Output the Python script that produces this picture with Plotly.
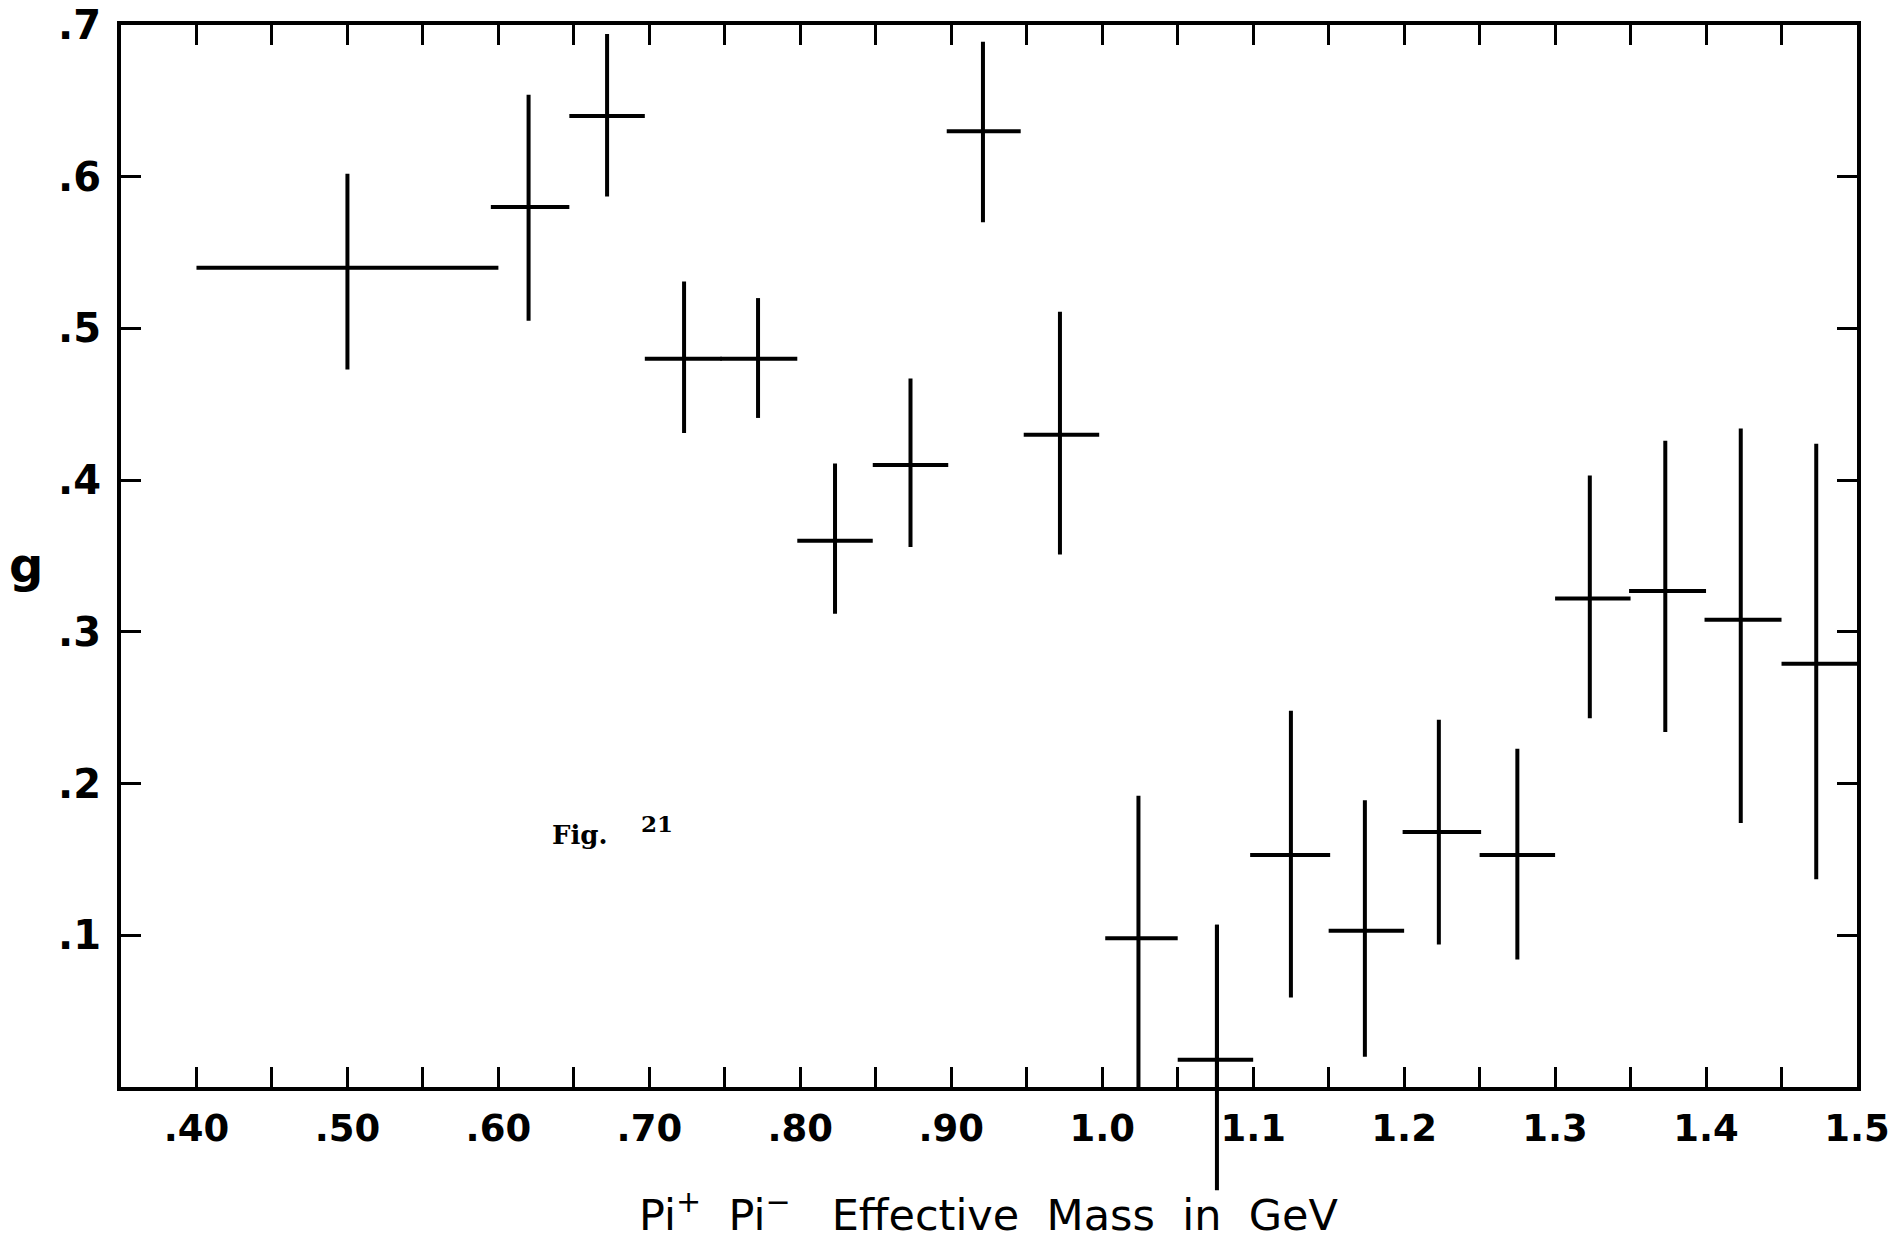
import plotly.graph_objects as go

# Data (Fig. 21)
mass    = [0.50, 0.620, 0.672, 0.723, 0.772, 0.823, 0.873, 0.921, 0.972, 1.024, 1.076, 1.125, 1.174, 1.223, 1.275, 1.323, 1.373, 1.423, 1.473]
mass_lo = [0.40, 0.595, 0.647, 0.697, 0.747, 0.798, 0.848, 0.897, 0.948, 1.002, 1.050, 1.098, 1.150, 1.199, 1.250, 1.300, 1.349, 1.399, 1.450]
mass_hi = [0.60, 0.647, 0.697, 0.748, 0.798, 0.848, 0.898, 0.946, 0.998, 1.050, 1.100, 1.151, 1.200, 1.251, 1.300, 1.350, 1.400, 1.450, 1.500]
g       = [0.540, 0.580, 0.640, 0.480, 0.480, 0.360, 0.410, 0.630, 0.430, 0.098, 0.018, 0.153, 0.103, 0.168, 0.153, 0.322, 0.327, 0.308, 0.279]
g_hi    = [0.602, 0.654, 0.694, 0.531, 0.520, 0.411, 0.467, 0.689, 0.511, 0.192, 0.107, 0.248, 0.189, 0.242, 0.223, 0.403, 0.426, 0.434, 0.424]
g_lo    = [0.473, 0.505, 0.587, 0.431, 0.441, 0.312, 0.356, 0.570, 0.351, 0.000, -0.068, 0.059, 0.020, 0.094, 0.084, 0.243, 0.234, 0.174, 0.137]

x_range = [0.35, 1.5]
y_range = [0.0, 0.7]
x_tickvals = [round(0.40 + 0.05 * i, 2) for i in range(23)]
x_ticktext = [".40", "", ".50", "", ".60", "", ".70", "", ".80", "", ".90", "",
              "1.0", "", "1.1", "", "1.2", "", "1.3", "", "1.4", "", "1.5"]
y_tickvals = [0.1, 0.2, 0.3, 0.4, 0.5, 0.6, 0.7]
y_ticktext = [".1", ".2", ".3", ".4", ".5", ".6", ".7"]

LW = 4
fig = go.Figure()
fig.add_trace(go.Scatter(
    x=mass, y=g, mode="markers",
    marker=dict(size=1, color="black"),
    cliponaxis=False,
    error_x=dict(type="data", symmetric=False,
                 array=[h - m for h, m in zip(mass_hi, mass)],
                 arrayminus=[m - l for m, l in zip(mass, mass_lo)],
                 thickness=LW, width=0, color="black"),
    error_y=dict(type="data", symmetric=False,
                 array=[h - v for h, v in zip(g_hi, g)],
                 arrayminus=[v - l for v, l in zip(g, g_lo)],
                 thickness=LW, width=0, color="black"),
    showlegend=False, hoverinfo="skip",
))

# error bars that run past the lower axis are not clipped in the original
def to_paper_y(v):
    return (v - y_range[0]) / (y_range[1] - y_range[0])

for m, lo, hi in zip(mass, g_lo, g_hi):
    if lo < y_range[0]:
        fig.add_shape(type="line", xref="x", yref="paper",
                      x0=m, x1=m, y0=to_paper_y(lo), y1=to_paper_y(hi),
                      line=dict(color="black", width=LW), layer="above")

fig.update_xaxes(
    range=x_range, showgrid=False, zeroline=False, automargin=False,
    showline=True, linewidth=4, linecolor="black", mirror="ticks",
    ticks="inside", ticklen=20, tickwidth=3, tickcolor="black",
    tickmode="array", tickvals=x_tickvals, ticktext=x_ticktext,
    tickfont=dict(family="DejaVu Sans", size=37, color="black", weight="bold"),
    ticklabelstandoff=6,
)
fig.update_yaxes(
    range=y_range, showgrid=False, zeroline=False, automargin=False,
    showline=True, linewidth=4, linecolor="black", mirror="ticks",
    ticks="inside", ticklen=20, tickwidth=3, tickcolor="black",
    tickmode="array", tickvals=y_tickvals, ticktext=y_ticktext,
    tickfont=dict(family="DejaVu Sans", size=40, color="black", weight="bold"),
    ticklabelstandoff=8,
)

fig.add_annotation(xref="paper", yref="paper", x=-0.055, y=0.344 / 0.7,
                   text="g", showarrow=False, xanchor="center", yanchor="middle",
                   font=dict(family="DejaVu Sans", size=48, color="black", weight="bold"))
fig.add_annotation(xref="paper", yref="paper", x=0.5, y=-0.118,
                   text="Pi<sup>+</sup>  Pi<sup>−</sup>   Effective  Mass  in  GeV",
                   showarrow=False, xanchor="center", yanchor="middle",
                   font=dict(family="DejaVu Sans", size=43, color="black"))
fig.add_annotation(x=0.654, y=0.166, text="Fig.", showarrow=False,
                   xanchor="center", yanchor="middle",
                   font=dict(family="DejaVu Serif", size=26, color="black", weight="bold"))
fig.add_annotation(x=0.705, y=0.174, text="21", showarrow=False,
                   xanchor="center", yanchor="middle",
                   font=dict(family="DejaVu Serif", size=23, color="black", weight="bold"))

fig.update_layout(
    width=1894, height=1241,
    margin=dict(l=121, r=37, t=25, b=154, autoexpand=False),
    paper_bgcolor="white", plot_bgcolor="white",
)

fig.write_html("out.html")
